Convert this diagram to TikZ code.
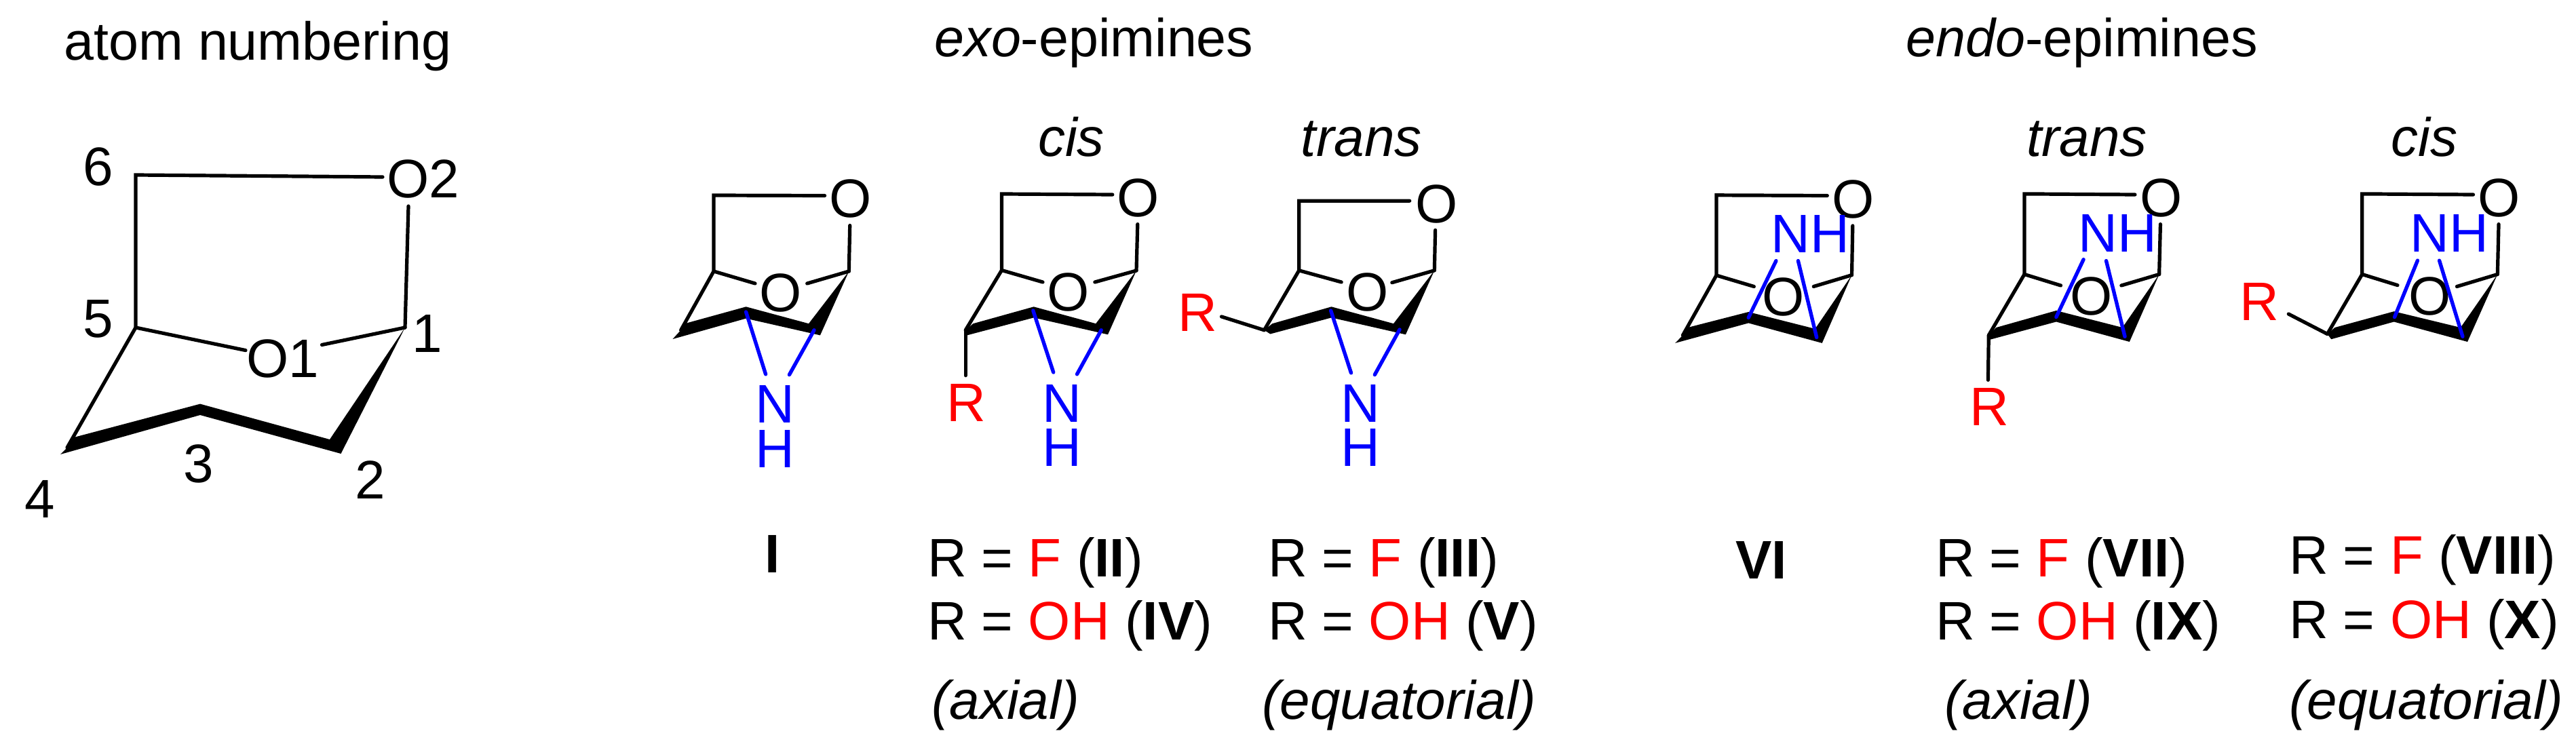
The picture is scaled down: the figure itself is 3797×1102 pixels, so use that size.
\documentclass[tikz,border=0pt]{standalone}
\usepackage{fontspec}
\setmainfont{Liberation Sans}
\definecolor{nblue}{RGB}{0,0,255}
\definecolor{rred}{RGB}{255,0,0}
\newcommand{\Rd}[1]{\textcolor{rred}{#1}}
\newcommand{\Bd}[1]{\textbf{#1}}
\tikzset{
  bond/.style={draw=black,line width=1.3pt,line cap=round,line join=miter},
  nbond/.style={draw=nblue,line width=1.35pt,line cap=round},
  thick bar/.style={fill=black,draw=none},
  lab/.style={inner sep=0pt,outer sep=0pt,font=\fontsize{20}{24}\selectfont},
  baselab/.style={lab,anchor=base},
  leftlab/.style={lab,anchor=base west},
  titlelab/.style={inner sep=0pt,outer sep=0pt,anchor=base,font=\fontsize{19.75}{24}\selectfont},
  atom/.style={lab,anchor=center},
  natom/.style={lab,anchor=base,text=nblue},
  ratom/.style={lab,anchor=base,text=rred},
}
% draws the ring skeleton from the named coordinates with prefix #1
\newcommand{\RingOf}[1]{%
  \fill[thick bar] (#1c4t) -- (#1c3t) -- (#1c2t) -- (#1c1) -- (#1c2b) -- (#1c3b) -- (#1c4b) -- (#1c4) -- cycle;
  \draw[bond] (#1c4) -- (#1c5) -- (#1c6) -- (#1oa);
  \draw[bond] (#1c5) -- (#1oc);
  \draw[bond] (#1c1) -- (#1od);
  \draw[bond] (#1c1) -- (#1ob);
}
\begin{document}
\begin{tikzpicture}[x=0.25pt,y=-0.25pt]
\useasboundingbox (0,0) rectangle (3797,1102);

% ---------- atom numbering
\node[titlelab] (tnum) at (380,88.5) {atom numbering};
\coordinate (Ac6) at (200,258);
\coordinate (Aoa) at (564,261);
\coordinate (Aob) at (602,304);
\coordinate (Ac1) at (597,483);
\coordinate (Ac5) at (200,483);
\coordinate (Aoc) at (362,516.6);
\coordinate (Aod) at (474.5,508.5);
\coordinate (Ac4) at (99,660);
\coordinate (Ac4t) at (105,646);
\coordinate (Ac4b) at (89,670);
\coordinate (Ac3t) at (295,595.6);
\coordinate (Ac3b) at (295,612);
\coordinate (Ac2t) at (486,648);
\coordinate (Ac2b) at (502.5,669);
\RingOf{A}
\node[atom] (ao2) at (624,264) {O2};
\node[atom] (ao1) at (417,528.5) {O1};
\node[atom] (an6) at (145,246) {6};
\node[atom] (an5) at (145,470) {5};
\node[atom] (an1) at (630,492) {1};
\node[atom] (an3) at (293,684) {3};
\node[atom] (an2) at (546,708) {2};
\node[atom] (an4) at (59,736) {4};

% ---------- titles
\node[titlelab] (texo) at (1612.5,84) {\textit{exo}-epimines};
\node[titlelab] (tendo) at (3068.8,84) {\textit{endo}-epimines};
\node[baselab] (tcisA) at (1579,230) {\textit{cis}};
\node[baselab] (ttrA) at (2006.7,230) {\textit{trans}};
\node[baselab] (ttrB) at (3075.9,230) {\textit{trans}};
\node[baselab] (tcisB) at (3573.2,230) {\textit{cis}};

% ---------- I
\coordinate (Bc6) at (1052,288);
\coordinate (Boa) at (1215.6,288.5);
\coordinate (Bob) at (1252.7,332.5);
\coordinate (Bc1) at (1251.3,400);
\coordinate (Bc5) at (1052,400);
\coordinate (Boc) at (1113,418);
\coordinate (Bod) at (1189.7,418);
\coordinate (Bc4) at (1003.6,486.8);
\coordinate (Bc4t) at (1010,477);
\coordinate (Bc4b) at (991.5,500);
\coordinate (Bc3t) at (1099.6,452.3);
\coordinate (Bc3b) at (1099.6,469.6);
\coordinate (Bc2t) at (1192,477.2);
\coordinate (Bc2b) at (1208.9,494.4);
\RingOf{B}
\node[atom] (bO) at (1253.6,293) {O};
\node[atom] (bO1) at (1150.9,432) {O};
\node[natom] (bN) at (1142,623.8) {N};
\node[natom] (bH) at (1142,689.6) {H};
\coordinate (bn1) at (1099.6,460);
\coordinate (bn2) at (1128.6,551.8);
\coordinate (bn3) at (1200,486.8);
\coordinate (bn4) at (1163.4,552.6);
\draw[nbond] (bn1) -- (bn2);
\draw[nbond] (bn3) -- (bn4);

% ---------- II / IV (cis, exo)
\coordinate (Cc6) at (1476.5,286);
\coordinate (Coa) at (1639.8,287);
\coordinate (Cob) at (1676.8,330.6);
\coordinate (Cc1) at (1675,399);
\coordinate (Cc5) at (1476.5,398.5);
\coordinate (Coc) at (1537,416);
\coordinate (Cod) at (1613.8,416);
\coordinate (Cc4) at (1423.2,486.8);
\coordinate (Cc4t) at (1434.4,477.2);
\coordinate (Cc4b) at (1425.4,494.4);
\coordinate (Cc3t) at (1523.7,452.3);
\coordinate (Cc3b) at (1523.7,468.4);
\coordinate (Cc2t) at (1615.2,477.2);
\coordinate (Cc2b) at (1633,493.3);
\RingOf{C}
\node[atom] (cO) at (1677.7,291.6) {O};
\node[atom] (cO1) at (1575,431.3) {O};
\node[natom] (cN) at (1565.6,622.6) {N};
\node[natom] (cH) at (1565.6,687.7) {H};
\node[ratom] (cR) at (1424.5,621.5) {R};
\coordinate (cr1) at (1423.2,553.7);
\draw[bond] (Cc4) -- (cr1);
\coordinate (cn1) at (1522.8,458);
\coordinate (cn2) at (1552.7,549);
\coordinate (cn3) at (1623.2,486.8);
\coordinate (cn4) at (1587.5,551.8);
\draw[nbond] (cn1) -- (cn2);
\draw[nbond] (cn3) -- (cn4);

% ---------- III / V (trans, exo)
\coordinate (Dc6) at (1914.7,296.2);
\coordinate (Doa) at (2077.7,296.2);
\coordinate (Dob) at (2115.6,339.4);
\coordinate (Dc1) at (2114.3,398.8);
\coordinate (Dc5) at (1914.7,398.8);
\coordinate (Doc) at (1977.2,416);
\coordinate (Dod) at (2051.8,416.7);
\coordinate (Dc4) at (1863.4,486.8);
\coordinate (Dc4t) at (1875.4,477.2);
\coordinate (Dc4b) at (1872.3,492.5);
\coordinate (Dc3t) at (1962.5,452.3);
\coordinate (Dc3b) at (1962.5,468.4);
\coordinate (Dc2t) at (2054,477.2);
\coordinate (Dc2b) at (2071.9,493.3);
\RingOf{D}
\node[atom] (dO) at (2117.4,301.2) {O};
\node[atom] (dO1) at (2015.2,431.3) {O};
\node[natom] (dN) at (2005.8,622.6) {N};
\node[natom] (dH) at (2005.8,687.7) {H};
\node[ratom] (dR) at (1765.6,488.7) {R};
\coordinate (dr1) at (1800.4,466.9);
\draw[bond] (Dc4) -- (dr1);
\coordinate (dn1) at (1961.6,458);
\coordinate (dn2) at (1991.5,549.9);
\coordinate (dn3) at (2063,486);
\coordinate (dn4) at (2026.3,552.6);
\draw[nbond] (dn1) -- (dn2);
\draw[nbond] (dn3) -- (dn4);

% ---------- VI
\coordinate (Ec6) at (2529.9,287.8);
\coordinate (Eoa) at (2693.3,288.5);
\coordinate (Eob) at (2730.8,332.9);
\coordinate (Ec1) at (2729.5,405.6);
\coordinate (Ec5) at (2529.9,406);
\coordinate (Eoc) at (2585.3,422.5);
\coordinate (Eod) at (2673.2,422.5);
\coordinate (Ec4) at (2480.4,494.4);
\coordinate (Ec4t) at (2488,482.9);
\coordinate (Ec4b) at (2469.2,505.9);
\coordinate (Ec3t) at (2577.2,460);
\coordinate (Ec3b) at (2577.2,476.4);
\coordinate (Ec2t) at (2675.4,484.9);
\coordinate (Ec2b) at (2685.7,505.9);
\RingOf{E}
\node[atom] (eO) at (2731.7,293.5) {O};
\node[atom] (eO1) at (2629,438.2) {O};
\node[natom] (eNH) at (2668.3,372.7) {NH};
\coordinate (en1) at (2617.9,384.6);
\coordinate (en2) at (2577.2,468.4);
\coordinate (en3) at (2650.4,384.6);
\coordinate (en4) at (2677.7,497.5);
\draw[nbond] (en1) -- (en2);
\draw[nbond] (en3) -- (en4);

% ---------- VII / IX (trans, endo)
\coordinate (Fc6) at (2983.9,285.9);
\coordinate (Foa) at (3146.9,287);
\coordinate (Fob) at (3184.4,330.6);
\coordinate (Fc1) at (3182.6,404.5);
\coordinate (Fc5) at (2983.9,404.5);
\coordinate (Foc) at (3037.5,421);
\coordinate (Fod) at (3126.8,421);
\coordinate (Fc4) at (2931.3,494.4);
\coordinate (Fc4t) at (2942.4,483);
\coordinate (Fc4b) at (2931.3,501.3);
\coordinate (Fc3t) at (3030.8,458);
\coordinate (Fc3b) at (3030.8,474.5);
\coordinate (Fc2t) at (3128.4,483);
\coordinate (Fc2b) at (3138.8,504);
\RingOf{F}
\node[atom] (fO) at (3185.7,291.6) {O};
\node[atom] (fO1) at (3083,437) {O};
\node[natom] (fNH) at (3121.4,371.2) {NH};
\node[ratom] (fR) at (2932.6,627.6) {R};
\coordinate (fr1) at (2930.4,560.3);
\draw[bond] (Fc4) -- (fr1);
\coordinate (fn1) at (3071,382.7);
\coordinate (fn2) at (3030.8,467.6);
\coordinate (fn3) at (3104.5,384.6);
\coordinate (fn4) at (3132,496.3);
\draw[nbond] (fn1) -- (fn2);
\draw[nbond] (fn3) -- (fn4);

% ---------- VIII / X (cis, endo)
\coordinate (Gc6) at (3481.7,285.9);
\coordinate (Goa) at (3645.5,287);
\coordinate (Gob) at (3683,330.6);
\coordinate (Gc1) at (3681.3,404.5);
\coordinate (Gc5) at (3481.7,404.5);
\coordinate (Goc) at (3533.9,420.6);
\coordinate (God) at (3621.4,422.5);
\coordinate (Gc4) at (3430.4,492.5);
\coordinate (Gc4t) at (3441.5,483);
\coordinate (Gc4b) at (3436.2,500.2);
\coordinate (Gc3t) at (3528.6,459.2);
\coordinate (Gc3b) at (3528.6,474.5);
\coordinate (Gc2t) at (3626.8,483);
\coordinate (Gc2b) at (3637,504);
\RingOf{G}
\node[atom] (gO) at (3683.9,291.6) {O};
\node[atom] (gO1) at (3581.3,437) {O};
\node[natom] (gNH) at (3610.2,371.2) {NH};
\node[ratom] (gR) at (3330.6,472.6) {R};
\coordinate (gr1) at (3373.2,463);
\draw[bond] (Gc4) -- (gr1);
\coordinate (gn1) at (3563.4,384.2);
\coordinate (gn2) at (3529.5,467.6);
\coordinate (gn3) at (3595.5,384.2);
\coordinate (gn4) at (3629.9,496.3);
\draw[nbond] (gn1) -- (gn2);
\draw[nbond] (gn3) -- (gn4);

% ---------- captions
\node[baselab] (capI) at (1138.4,844) {\Bd{I}};
\node[leftlab] (l1a) at (1367,850.7) {R = \Rd{F} (\Bd{II})};
\node[leftlab] (l1b) at (1367,943.3) {R = \Rd{OH} (\Bd{IV})};
\node[leftlab] (l1c) at (1373,1060) {\textit{(axial)}};
\node[leftlab] (l2a) at (1869,850.7) {R = \Rd{F} (\Bd{III})};
\node[leftlab] (l2b) at (1869,943.3) {R = \Rd{OH} (\Bd{V})};
\node[leftlab] (l2c) at (1860,1060) {\textit{(equatorial)}};
\node[baselab] (capVI) at (2596,853) {\Bd{VI}};
\node[leftlab] (l3a) at (2853,850.7) {R = \Rd{F} (\Bd{VII})};
\node[leftlab] (l3b) at (2853,943.3) {R = \Rd{OH} (\Bd{IX})};
\node[leftlab] (l3c) at (2866,1060) {\textit{(axial)}};
\node[leftlab] (l4a) at (3374,846.7) {R = \Rd{F} (\Bd{VIII})};
\node[leftlab] (l4b) at (3374,941) {R = \Rd{OH} (\Bd{X})};
\node[leftlab] (l4c) at (3374,1060) {\textit{(equatorial)}};
\end{tikzpicture}
\end{document}
